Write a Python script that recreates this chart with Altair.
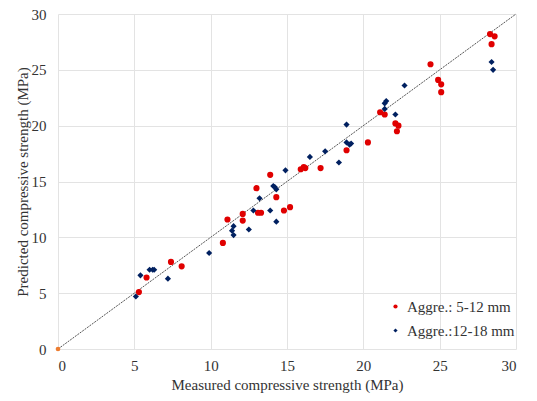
import altair as alt
import pandas as pd

red_x = [5.3, 5.8, 7.4, 8.1, 10.8, 11.1, 12.1, 12.1, 13.0, 13.1, 13.3, 13.9, 14.3, 14.8, 15.2,
         15.9, 16.1, 16.2, 17.2, 18.9, 20.3, 21.1, 21.4, 22.1, 22.3, 22.2, 24.4, 24.9, 25.1, 25.1,
         28.3, 28.6, 28.4]
red_y = [5.1, 6.4, 7.8, 7.4, 9.5, 11.6, 12.1, 11.5, 14.4, 12.2, 12.2, 15.6, 13.6, 12.4, 12.7,
         16.1, 16.3, 16.2, 16.2, 17.8, 18.5, 21.2, 21.0, 20.2, 20.0, 19.5, 25.5, 24.1, 23.7, 23.0,
         28.2, 28.0, 27.3]
blue_x = [5.1, 5.4, 6.0, 6.2, 6.3, 7.2, 9.9, 11.5, 11.4, 11.5, 12.5, 12.8, 13.2, 13.9, 14.1,
          14.2, 14.3, 14.3, 14.9, 16.5, 17.5, 18.4, 18.9, 18.9, 19.1, 19.2, 21.4, 21.5, 21.4,
          22.1, 22.7, 28.4, 28.5]
blue_y = [4.7, 6.6, 7.1, 7.1, 7.1, 6.3, 8.6, 11.0, 10.6, 10.2, 10.7, 12.4, 13.5, 12.4, 14.6,
          14.5, 14.3, 11.4, 16.0, 17.2, 17.7, 16.7, 20.1, 18.5, 18.3, 18.4, 22.0, 22.2, 21.5,
          21.0, 23.6, 25.7, 25.0]
groups = ["Aggre.: 5-12 mm", "Aggre.:12-18 mm"]
line_x = [0, 30]
origin_x = [0]
origin_y = [0]

df = pd.DataFrame({
    "measured": red_x + blue_x,
    "predicted": red_y + blue_y,
    "group": [groups[0]] * len(red_x) + [groups[1]] * len(blue_x),
})
line_df = pd.DataFrame({"m": line_x, "p": line_x})
orig_df = pd.DataFrame({"m": origin_x, "p": origin_y})

font = "Liberation Serif"
xs = alt.Scale(domain=[0, 30], nice=False)
ys = alt.Scale(domain=[0, 30], nice=False)
xax = alt.Axis(values=[0, 5, 10, 15, 20, 25, 30], title="Measured compressive strength (MPa)",
               grid=True, domain=False, ticks=False, labelPadding=9, titlePadding=4)
yax = alt.Axis(values=[0, 5, 10, 15, 20, 25, 30], title="Predicted compressive strength (MPa)",
               grid=True, domain=False, ticks=False, labelPadding=12, titlePadding=1)

line = alt.Chart(line_df).mark_line(color="#555555", strokeDash=[2, 1], strokeWidth=1).encode(
    x=alt.X("m:Q", scale=xs, axis=xax),
    y=alt.Y("p:Q", scale=ys, axis=yax),
)
orig = alt.Chart(orig_df).mark_point(filled=True, color="#ed7d31", size=22, opacity=1).encode(
    x=alt.X("m:Q", scale=xs),
    y=alt.Y("p:Q", scale=ys),
)
pts = alt.Chart(df).mark_point(filled=True, size=38, opacity=1).encode(
    x=alt.X("measured:Q", scale=xs),
    y=alt.Y("predicted:Q", scale=ys),
    color=alt.Color("group:N", scale=alt.Scale(domain=groups, range=["#e00000", "#002060"]),
                    legend=alt.Legend(title=None, orient="none", legendX=330, legendY=285,
                                      symbolSize=18, labelFontSize=15, labelFont=font,
                                      rowPadding=8, labelColor="#333333")),
    shape=alt.Shape("group:N", scale=alt.Scale(domain=groups, range=["circle", "diamond"]),
                    legend=None),
)

chart = alt.layer(line, orig, pts).properties(
    width=458, height=335,
    padding={"left": 50, "top": 6, "right": 13, "bottom": 44},
    autosize=alt.AutoSizeParams(type="none"),
).configure_view(stroke=None).configure_axis(
    labelFont=font, titleFont=font, labelFontSize=15, titleFontSize=15,
    labelColor="#333333", titleColor="#333333", titleFontWeight="normal",
    gridColor="#e3e3e3", gridWidth=1,
)

chart.save("out.html", embed_options={"renderer": "svg", "actions": False})
